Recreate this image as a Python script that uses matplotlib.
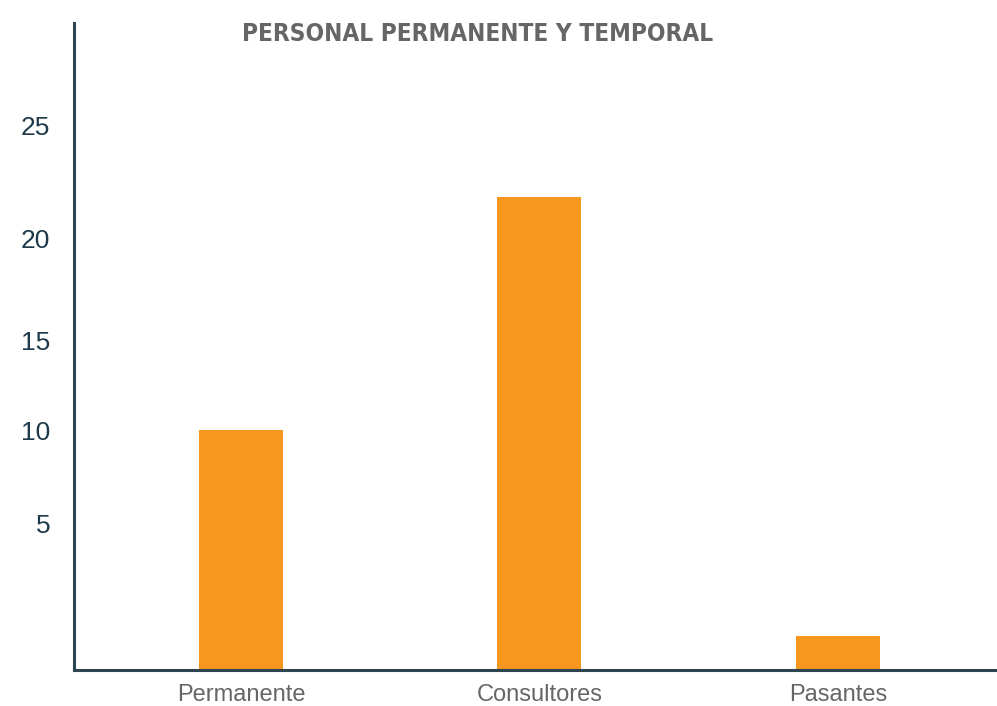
import matplotlib
matplotlib.use("Agg")
import matplotlib.pyplot as plt

categories = ["Permanente", "Consultores", "Pasantes"]
values = [10, 19.7, 1.4]
tick_values = [6.1, 10, 13.75, 18.0, 22.7]
tick_labels = ["5", "10", "15", "20", "25"]
title = "PERSONAL PERMANENTE Y TEMPORAL"

W, H = 997, 706
fig = plt.figure(figsize=(W / 100, H / 100), dpi=100)
ax = fig.add_axes([74 / W, (H - 670) / H, (995 - 74) / W, (670 - 23) / H])

x = list(range(len(categories)))
ax.bar(x, values, width=0.281, color="#F7971E", zorder=1)

ax.set_xlim(-0.559, 2.526)
ax.set_ylim(0, 26.96)

spine_color = "#2E4450"
for s in ["top", "right"]:
    ax.spines[s].set_visible(False)
for s in ["left", "bottom"]:
    ax.spines[s].set_color(spine_color)
    ax.spines[s].set_linewidth(2.2)
    ax.spines[s].set_zorder(3)

ax.set_xticks(x)
ax.set_xticklabels(categories, fontsize=17, color="#666666", family="Liberation Sans")
ax.tick_params(axis="x", length=0, pad=10)
ax.set_yticks(tick_values)
ax.set_yticklabels(tick_labels, fontsize=19, color="#1F3A4A", family="Liberation Sans")
ax.tick_params(axis="y", length=0, pad=17)

fig.text(478 / W, 1 - 34 / H, title, ha="center", va="center",
         fontsize=17.5, fontweight="bold", fontstretch="condensed", color="#666666",
         family="DejaVu Sans")

fig.savefig("out.png", dpi=100)
